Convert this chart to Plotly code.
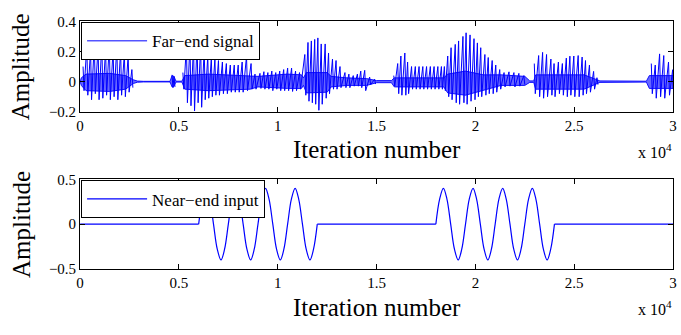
import plotly.graph_objects as go

# ---------------- axis ticks ----------------
x_tickvals = [0, 5000, 10000, 15000, 20000, 25000, 30000]
x_ticktext = ["0", "0.5", "1", "1.5", "2", "2.5", "3"]
top_yticks = [-0.2, 0, 0.2, 0.4]
top_yticktext = ["\u22120.2", "0", "0.2", "0.4"]
bot_yticks = [-0.5, 0, 0.5]
bot_yticktext = ["\u22120.5", "0", "0.5"]

# ---------------- far-end signal: pitch pulses (sample, top, bottom) ----------------
pulse_x = [150, 340, 530, 720, 910, 1100, 1290, 1480, 1670, 1860, 2050, 2240, 2430, 2620,
           4650, 4750,
           5200, 5380, 5560, 5740, 5920, 6100, 6280, 6460, 6640, 6820, 7000, 7200, 7400, 7600,
           7800, 8000, 8200, 8420, 8650,
           8850, 9100, 9300, 9500, 9700, 9900, 10100, 10300, 10500, 10700, 10900, 11100,
           11370, 11530, 11700, 11870, 12030, 12200, 12400, 12570, 12770, 12950, 13150, 13400,
           13600, 13820, 14030, 14200, 14400, 14650, 14900,
           15870, 16070, 16230, 16430, 16570, 16770, 16960, 17150, 17340, 17530, 17720, 17910,
           18100, 18280, 18430, 18600, 18770, 18980, 19150, 19370, 19530, 19730, 19930, 20100,
           20270, 20480, 20650, 20850, 21030, 21230, 21450, 21700, 21950, 22200, 22450,
           22980, 23200, 23400, 23600, 23820, 23980, 24200, 24400, 24600, 24780, 24980, 25200,
           25400, 25570, 25770, 25980, 26150,
           28900, 29100, 29320, 29530, 29770, 29980]
pulse_hi = [0.10, 0.24, 0.21, 0.26, 0.23, 0.26, 0.22, 0.25, 0.22, 0.24, 0.21, 0.19, 0.17, 0.08,
            0.045, 0.035,
            0.06, 0.24, 0.26, 0.25, 0.27, 0.24, 0.22, 0.17, 0.16, 0.15, 0.14, 0.13, 0.12, 0.11,
            0.11, 0.11, 0.13, 0.17, 0.12,
            0.05, 0.055, 0.066, 0.06, 0.07, 0.06, 0.07, 0.08, 0.09, 0.09, 0.07, 0.06,
            0.18, 0.26, 0.27, 0.28, 0.29, 0.25, 0.25, 0.19, 0.15, 0.14, 0.10, 0.06,
            0.05, 0.04, 0.05, 0.07, 0.075, 0.03, 0.016,
            0.04, 0.12, 0.17, 0.19, 0.13, 0.10, 0.10, 0.10, 0.10, 0.10, 0.10, 0.10,
            0.10, 0.10, 0.10, 0.17, 0.225, 0.247, 0.27, 0.30, 0.324, 0.31, 0.285, 0.257,
            0.225, 0.18, 0.16, 0.14, 0.11, 0.08, 0.06, 0.065, 0.06, 0.055, 0.04,
            0.12, 0.173, 0.194, 0.18, 0.15, 0.12, 0.13, 0.12, 0.156, 0.169, 0.17, 0.173,
            0.163, 0.14, 0.11, 0.068, 0.026,
            0.12, 0.11, 0.184, 0.173, 0.13, 0.079]
pulse_lo = [-0.06, -0.09, -0.12, -0.08, -0.12, -0.11, -0.09, -0.12, -0.10, -0.12, -0.09, -0.10, -0.07, -0.04,
            -0.04, -0.035,
            -0.05, -0.14, -0.16, -0.195, -0.14, -0.17, -0.12, -0.11, -0.10, -0.09, -0.09, -0.08, -0.08, -0.07,
            -0.07, -0.07, -0.07, -0.06, -0.05,
            -0.05, -0.045, -0.05, -0.05, -0.06, -0.05, -0.06, -0.06, -0.06, -0.065, -0.06, -0.05,
            -0.09, -0.13, -0.14, -0.15, -0.19, -0.15, -0.11, -0.08, -0.05, -0.05, -0.04, -0.04,
            -0.04, -0.03, -0.03, -0.04, -0.06, -0.02, -0.016,
            -0.03, -0.08, -0.09, -0.09, -0.08, -0.05, -0.05, -0.05, -0.05, -0.05, -0.05, -0.05,
            -0.05, -0.05, -0.06, -0.10, -0.12, -0.14, -0.15, -0.14, -0.15, -0.13, -0.12, -0.10,
            -0.10, -0.09, -0.08, -0.08, -0.07, -0.05, -0.035, -0.03, -0.035, -0.03, -0.02,
            -0.08, -0.10, -0.11, -0.10, -0.09, -0.10, -0.08, -0.09, -0.10, -0.09, -0.10, -0.10,
            -0.09, -0.08, -0.07, -0.05, -0.02,
            -0.08, -0.11, -0.10, -0.11, -0.09, -0.06]

# ---------------- far-end signal: dense envelope (sample, upper, lower) ----------------
band_x = [0, 60, 300, 1500, 2300, 2700, 2900, 3200, 4550, 4650, 4750, 4850, 5150, 5300, 6500,
          8600, 9000, 10500, 11200, 11300, 11450, 12500, 12700, 13500, 14500, 15000, 15750, 15900,
          18400, 18600, 19500, 20400, 21300, 22500, 22750, 22950, 23050, 25500, 26300, 28650,
          28800, 30000]
band_hi = [0.0, 0.025, 0.05, 0.055, 0.04, 0.012, 0.004, 0.002, 0.002, 0.04, 0.035, 0.003, 0.003, 0.04, 0.05,
           0.04, 0.035, 0.05, 0.045, 0.025, 0.06, 0.06, 0.035, 0.025, 0.02, 0.007, 0.007, 0.025,
           0.025, 0.05, 0.07, 0.045, 0.045, 0.035, 0.005, 0.005, 0.045, 0.045, 0.005, 0.003,
           0.04, 0.04]
band_lo = [0.0, -0.025, -0.06, -0.065, -0.05, -0.012, -0.004, -0.002, -0.002, -0.035, -0.03, -0.003, -0.003, -0.05, -0.06,
           -0.05, -0.035, -0.045, -0.045, -0.025, -0.075, -0.07, -0.035, -0.025, -0.025, -0.007, -0.007, -0.035,
           -0.035, -0.075, -0.09, -0.06, -0.025, -0.025, -0.005, -0.005, -0.05, -0.05, -0.005, -0.003,
           -0.045, -0.045]

# ---------------- near-end input ----------------
near_flat_x = [0, 6000, None, 12000, 18000, None, 24000, 30000]
near_flat_y = [0, 0, None, 0, 0, None, 0, 0]
near_wave_x = [6000, 6190, 6380, 6560, 6750, 6940, 7130, 7310, 7500, 7690, 7880, 8060, 8250, 8440,
               8630, 8810, 9000, 9190, 9380, 9560, 9750, 9940, 10130, 10310, 10500, 10690, 10880,
               11060, 11250, 11440, 11630, 11810, 12000, None,
               18000, 18190, 18380, 18560, 18750, 18940, 19130, 19310, 19500, 19690, 19880, 20060,
               20250, 20440, 20630, 20810, 21000, 21190, 21380, 21560, 21750, 21940, 22130, 22310,
               22500, 22690, 22880, 23060, 23250, 23440, 23630, 23810, 24000]
near_wave_y = [0, 0.28, 0.4, 0.28, 0, -0.28, -0.4, -0.28, 0, 0.28, 0.4, 0.28, 0, -0.28,
               -0.4, -0.28, 0, 0.28, 0.4, 0.28, 0, -0.28, -0.4, -0.28, 0, 0.28, 0.4,
               0.28, 0, -0.28, -0.4, -0.28, 0, None,
               0, 0.28, 0.4, 0.28, 0, -0.28, -0.4, -0.28, 0, 0.28, 0.4, 0.28,
               0, -0.28, -0.4, -0.28, 0, 0.28, 0.4, 0.28, 0, -0.28, -0.4, -0.28,
               0, 0.28, 0.4, 0.28, 0, -0.28, -0.4, -0.28, 0]

BLUE = "#0000ff"
FONT = "Liberation Serif"

# spike path: each pulse drawn top -> bottom; break the path across silent gaps
sx, sy = [], []
prev = None
for x, h, l in zip(pulse_x, pulse_hi, pulse_lo):
    if prev is not None and x - prev > 400:
        sx.append(None)
        sy.append(None)
    sx += [x, x + 50]
    sy += [h, l]
    prev = x

fig = go.Figure()
fig.add_trace(go.Scatter(x=band_x + band_x[::-1], y=band_hi + band_lo[::-1], fill="toself",
                         fillcolor="rgba(0,0,255,0.6)", mode="lines",
                         line=dict(color=BLUE, width=0.9),
                         showlegend=False, hoverinfo="skip", xaxis="x", yaxis="y"))
fig.add_trace(go.Scatter(x=sx, y=sy, mode="lines", line=dict(color=BLUE, width=1),
                         name="Far\u2212end signal", legend="legend", xaxis="x", yaxis="y",
                         connectgaps=False))
fig.add_trace(go.Scatter(x=near_flat_x, y=near_flat_y, mode="lines", line=dict(color=BLUE, width=1.2),
                         showlegend=False, xaxis="x2", yaxis="y2", connectgaps=False))
fig.add_trace(go.Scatter(x=near_wave_x, y=near_wave_y, mode="lines",
                         line=dict(color=BLUE, width=1.2, shape="spline"),
                         name="Near\u2212end input", legend="legend2", xaxis="x2", yaxis="y2",
                         connectgaps=False))

W, H = 681, 335
xdom = [77 / W, 677 / W]
axis_common = dict(ticks="inside", ticklen=5, tickwidth=1, tickcolor="black", mirror="allticks",
                   showline=True, linecolor="black", linewidth=1, showgrid=False, zeroline=False,
                   tickfont=dict(family=FONT, size=15, color="black"))

fig.update_layout(
    width=W, height=H, margin=dict(l=0, r=0, t=0, b=0),
    paper_bgcolor="white", plot_bgcolor="white",
    font=dict(family=FONT, size=15, color="black"),
    xaxis=dict(domain=xdom, range=[0, 30000], tickvals=x_tickvals, ticktext=x_ticktext,
               anchor="y", **axis_common),
    yaxis=dict(domain=[1 - 109 / H, 1 - 14 / H], range=[-0.2, 0.4], tickvals=top_yticks,
               ticktext=top_yticktext, anchor="x", **axis_common),
    xaxis2=dict(domain=xdom, range=[0, 30000], tickvals=x_tickvals, ticktext=x_ticktext,
                anchor="y2", **axis_common),
    yaxis2=dict(domain=[1 - 274 / H, 1 - 180 / H], range=[-0.5, 0.5], tickvals=bot_yticks,
                ticktext=bot_yticktext, anchor="x2", **axis_common),
    legend=dict(x=78 / W, y=1 - 15 / H, xanchor="left", yanchor="top", bgcolor="white",
                bordercolor="black", borderwidth=1, font=dict(family=FONT, size=17, color="black"),
                itemwidth=60),
    legend2=dict(x=78 / W, y=1 - 181 / H, xanchor="left", yanchor="top", bgcolor="white",
                 bordercolor="black", borderwidth=1, font=dict(family=FONT, size=17, color="black"),
                 itemwidth=60),
    annotations=[
        dict(text="Amplitude", x=17 / W, y=1 - 61.5 / H, xref="paper", yref="paper",
             textangle=-90, showarrow=False, xanchor="center", yanchor="middle",
             font=dict(family=FONT, size=25, color="black")),
        dict(text="Amplitude", x=17 / W, y=1 - 227 / H, xref="paper", yref="paper",
             textangle=-90, showarrow=False, xanchor="center", yanchor="middle",
             font=dict(family=FONT, size=25, color="black")),
        dict(text="Iteration number", x=377 / W, y=1 - 149 / H, xref="paper", yref="paper",
             showarrow=False, xanchor="center", yanchor="middle",
             font=dict(family=FONT, size=25, color="black")),
        dict(text="Iteration number", x=377 / W, y=1 - 314 / H, xref="paper", yref="paper",
             showarrow=False, xanchor="center", yanchor="middle",
             font=dict(family=FONT, size=25, color="black")),
        dict(text="x 10<sup>4</sup>", x=678 / W, y=1 - 150 / H, xref="paper", yref="paper",
             showarrow=False, xanchor="right", yanchor="middle",
             font=dict(family=FONT, size=16, color="black")),
        dict(text="x 10<sup>4</sup>", x=678 / W, y=1 - 315 / H, xref="paper", yref="paper",
             showarrow=False, xanchor="right", yanchor="middle",
             font=dict(family=FONT, size=16, color="black")),
    ],
)

fig.write_html("out.html")
